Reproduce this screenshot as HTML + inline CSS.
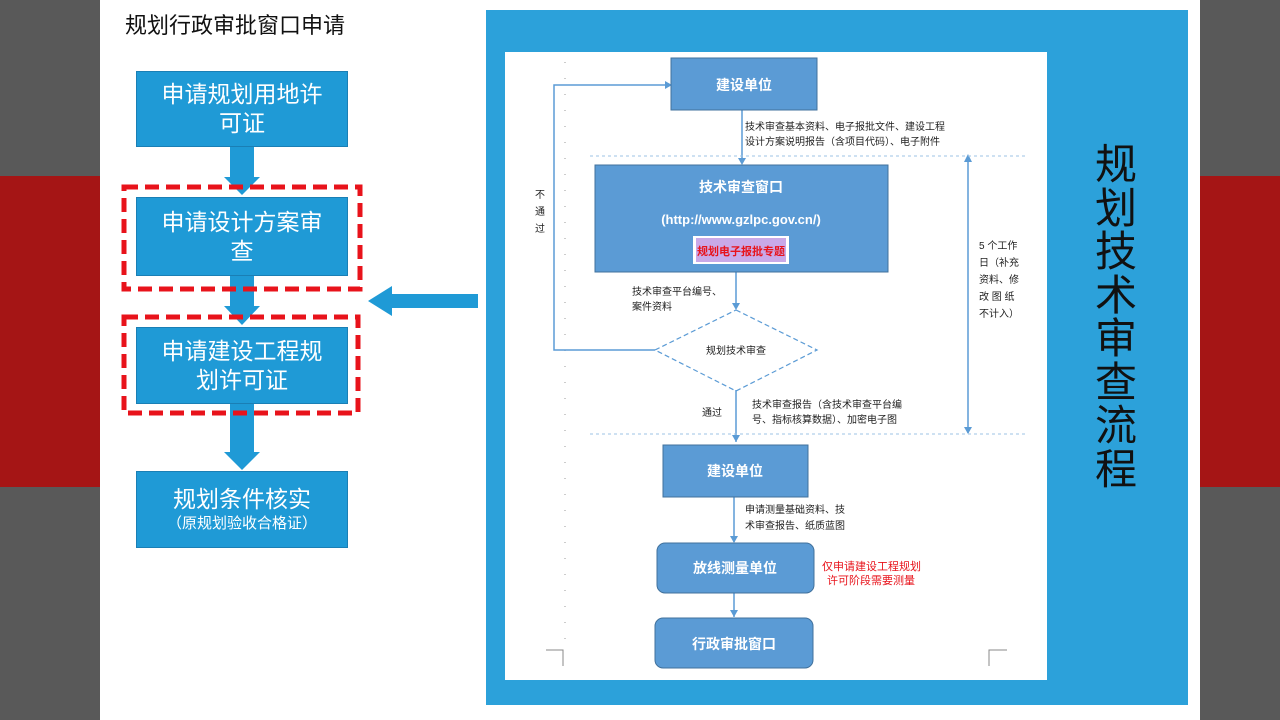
<!DOCTYPE html>
<html><head><meta charset="utf-8"><style>
body{margin:0;width:1280px;height:720px;position:relative;overflow:hidden;background:#595959;font-family:"Liberation Sans","Noto Sans CJK SC",sans-serif}
.a{position:absolute}
.lb{position:absolute;left:136px;width:212px;background:#1f9ad6;border:1px solid #1a7fb5;box-sizing:border-box;color:#fff;font-size:23px;text-align:center;display:flex;flex-direction:column;justify-content:center;line-height:29px}
</style></head><body>
<div class="a" style="left:0;top:176px;width:1280px;height:311px;background:#a51515"></div>
<div class="a" style="left:100px;top:0;width:1100px;height:720px;background:#fff"></div>
<div class="a" style="left:125px;top:8px;font-size:22px;color:#111">规划行政审批窗口申请</div>
<svg class="a" style="left:0;top:0" width="1280" height="720">
<g fill="#1f9ad6">
<rect x="230" y="147" width="24" height="30"/><polygon points="224,177 260,177 242,195"/>
<rect x="230" y="276" width="24" height="30"/><polygon points="224,306 260,306 242,325"/>
<rect x="230" y="404" width="24" height="48"/><polygon points="224,452 260,452 242,470"/>
<rect x="392" y="294" width="86" height="14"/><polygon points="392,286 392,316 368,301"/>
</g>
<g fill="none" stroke="#e8131b" stroke-width="5" stroke-dasharray="14,7">
<rect x="124" y="187" width="236" height="102"/>
<rect x="124" y="317" width="234" height="96"/>
</g>
</svg>
<div class="lb" style="top:71px;height:76px">申请规划用地许<br>可证</div>
<div class="lb" style="top:197px;height:79px">申请设计方案审<br>查</div>
<div class="lb" style="top:327px;height:77px">申请建设工程规<br>划许可证</div>
<div class="lb" style="top:471px;height:77px">规划条件核实<span style="font-size:15px;line-height:20px">（原规划验收合格证）</span></div>
<div class="a" style="left:486px;top:10px;width:702px;height:695px;background:#2ca1da"></div>
<div class="a" style="left:1095px;top:143px;width:44px;font-size:42px;line-height:43.5px;color:#111">规划技术审查流程</div>
<svg class="a" style="left:505px;top:52px" width="542" height="628" font-family="Liberation Sans,Noto Sans CJK SC,sans-serif">
<rect width="542" height="628" fill="#fff"/>
<line x1="60" y1="10" x2="60" y2="600" stroke="#999" stroke-dasharray="1,15"/>
<g stroke="#5b9bd5" fill="none" stroke-width="1.5">
<polyline points="150,298 49,298 49,33 160,33"/>
<line x1="237" y1="58" x2="237" y2="110"/>
<line x1="231" y1="220" x2="231" y2="256"/>
<line x1="231" y1="338" x2="231" y2="390"/>
<line x1="229" y1="445" x2="229" y2="490"/>
<line x1="229" y1="541" x2="229" y2="565"/>
<line x1="463" y1="104" x2="463" y2="381"/>
</g>
<g fill="#5b9bd5">
<polygon points="160,29 167,33 160,37"/><polygon points="233,106 241,106 237,113"/>
<polygon points="227,251 235,251 231,258"/><polygon points="227,383 235,383 231,390"/>
<polygon points="225,484 233,484 229,491"/><polygon points="225,558 233,558 229,565"/>
<polygon points="459,110 467,110 463,102"/><polygon points="459,375 467,375 463,382"/>
</g>
<g stroke="#9dc3e6" stroke-dasharray="3,3"><line x1="85" y1="104" x2="520" y2="104"/><line x1="85" y1="382" x2="520" y2="382"/></g>
<polygon points="231,258 312,298 231,339 150,298" fill="none" stroke="#5b9bd5" stroke-dasharray="5,3" stroke-width="1.2"/>
<rect x="166" y="6" width="146" height="52" fill="#5b9bd5" stroke="#41719c"/>
<rect x="90" y="113" width="293" height="107" fill="#5b9bd5" stroke="#41719c"/>
<rect x="158" y="393" width="145" height="52" fill="#5b9bd5" stroke="#41719c"/>
<rect x="152" y="491" width="157" height="50" rx="8" fill="#5b9bd5" stroke="#41719c"/>
<rect x="150" y="566" width="158" height="50" rx="8" fill="#5b9bd5" stroke="#41719c"/>
<rect x="188" y="184" width="96" height="28" fill="#fff"/>
<rect x="191" y="186" width="90" height="24" fill="#c9a9e8"/>
<g fill="#fff" font-weight="bold" text-anchor="middle" font-size="14">
<text x="239" y="38">建设单位</text>
<text x="236" y="140">技术审查窗口</text>
<text x="236" y="172" font-size="13">(http://www.gzlpc.gov.cn/)</text>
<text x="230" y="424">建设单位</text>
<text x="230" y="521">放线测量单位</text>
<text x="229" y="597">行政审批窗口</text>
</g>
<text x="236" y="203" fill="#e8131b" font-size="11" font-weight="bold" text-anchor="middle">规划电子报批专题</text>
<g fill="#222" font-size="10">
<text x="240" y="78">技术审查基本资料、电子报批文件、建设工程</text>
<text x="240" y="93">设计方案说明报告（含项目代码）、电子附件</text>
<text x="127" y="243">技术审查平台编号、</text>
<text x="127" y="258">案件资料</text>
<text x="231" y="302" text-anchor="middle">规划技术审查</text>
<text x="197" y="364">通过</text>
<text x="247" y="356">技术审查报告（含技术审查平台编</text>
<text x="247" y="371">号、指标核算数据）、加密电子图</text>
<text x="240" y="461">申请测量基础资料、技</text>
<text x="240" y="477">术审查报告、纸质蓝图</text>
<text x="30" y="146">不</text><text x="30" y="163">通</text><text x="30" y="180">过</text>
<text x="474" y="197">5 个工作</text><text x="474" y="214">日（补充</text><text x="474" y="231">资料、修</text><text x="474" y="248">改 图 纸</text><text x="474" y="265">不计入）</text>
</g>
<g fill="#e8131b" font-size="11"><text x="317" y="518">仅申请建设工程规划</text><text x="322" y="532">许可阶段需要测量</text></g>
<g stroke="#888" fill="none"><polyline points="41,598 58,598 58,614"/><polyline points="502,598 484,598 484,614"/></g>
</svg>
</body></html>
